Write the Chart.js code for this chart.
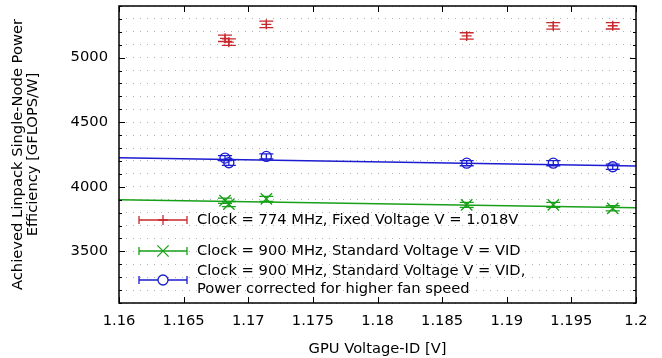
<!DOCTYPE html>
<html>
<head>
<meta charset="utf-8">
<script src="https://cdn.jsdelivr.net/npm/chart.js@4"></script>
<style>
  html, body { margin: 0; padding: 0; background: #fff; }
  #wrap { position: relative; width: 662px; height: 358px; }
</style>
</head>
<body>
<div id="wrap"><canvas id="chart"></canvas></div>
<script>
// --- data ---
const vidValues = [1.1682, 1.1685, 1.1714, 1.1869, 1.1936, 1.1982];
const fixedVoltageEff = [5150, 5120, 5258, 5168, 5246, 5247];
const fixedVoltageErr = [25, 25, 25, 25, 25, 25];
const standardEff = [3892, 3866, 3906, 3860, 3860, 3833];
const standardErr = [20, 20, 20, 20, 20, 20];
const correctedEff = [4222, 4186, 4235, 4183, 4183, 4155];
const correctedErr = [20, 20, 20, 20, 20, 20];

// linear fit lines (end points)
const fitX = [1.16, 1.2];
const standardFit = [3900, 3838];
const correctedFit = [4225, 4160];

const xTicks = [1.16, 1.165, 1.17, 1.175, 1.18, 1.185, 1.19, 1.195, 1.2];
const yMajorTicks = [3500, 4000, 4500, 5000];

const seriesLabels = [
    ['Clock = 774 MHz, Fixed Voltage V = 1.018V'],
    ['Clock = 900 MHz, Standard Voltage V = VID'],
    ['Clock = 900 MHz, Standard Voltage V = VID,', 'Power corrected for higher fan speed']
];

const RED = '#c8282d';
const GREEN = '#18a018';
const BLUE = '#1c1cd0';
const FONT = '"DejaVu Sans", sans-serif';
const FSIZE = 14.7;

function toPoints(xs, ys) {
    return xs.map((x, i) => ({ x: x, y: ys[i] }));
}

// error bars drawn through the chart's scales
const errorBarPlugin = {
    id: 'errorBars',
    afterDatasetsDraw(chart) {
        const ctx = chart.ctx;
        const xs = chart.scales.x, ys = chart.scales.y;
        chart.data.datasets.forEach(ds => {
            if (!ds.errors) return;
            ctx.save();
            ctx.strokeStyle = ds.borderColor;
            ctx.lineWidth = 1.3;
            ds.data.forEach((p, i) => {
                const px = xs.getPixelForValue(p.x);
                const top = ys.getPixelForValue(p.y + ds.errors[i]);
                const bot = ys.getPixelForValue(p.y - ds.errors[i]);
                ctx.beginPath();
                ctx.moveTo(px, top); ctx.lineTo(px, bot);
                ctx.moveTo(px - 7, top); ctx.lineTo(px + 7, top);
                ctx.moveTo(px - 7, bot); ctx.lineTo(px + 7, bot);
                ctx.stroke();
            });
            ctx.restore();
        });
    }
};

// frame, inward ticks and the in-plot legend (gnuplot look)
const framePlugin = {
    id: 'frame',
    afterDraw(chart) {
        const ctx = chart.ctx;
        const a = chart.chartArea;
        const xs = chart.scales.x, ys = chart.scales.y;
        ctx.save();
        ctx.strokeStyle = '#000';
        ctx.lineWidth = 1.5;
        ctx.strokeRect(a.left, a.top, a.right - a.left, a.bottom - a.top);

        ctx.lineWidth = 1;
        ctx.beginPath();
        xTicks.forEach(v => {
            const px = Math.round(xs.getPixelForValue(v)) + 0.5;
            ctx.moveTo(px, a.bottom); ctx.lineTo(px, a.bottom - 6);
            ctx.moveTo(px, a.top); ctx.lineTo(px, a.top + 6);
        });
        ys.ticks.forEach(t => {
            const len = yMajorTicks.includes(Math.round(t.value)) ? 6 : 3;
            const py = Math.round(ys.getPixelForValue(t.value)) + 0.5;
            ctx.moveTo(a.left, py); ctx.lineTo(a.left + len, py);
            ctx.moveTo(a.right, py); ctx.lineTo(a.right - len, py);
        });
        ctx.stroke();

        // legend
        const rows = [220, 251, 280];
        const colors = [RED, GREEN, BLUE];
        const styles = ['cross', 'crossRot', 'circle'];
        const radii = [5, 8, 5];
        const x0 = a.left + 20, x1 = a.left + 68, xt = a.left + 78;
        ctx.font = FSIZE + 'px ' + FONT;
        ctx.textBaseline = 'middle';
        rows.forEach((y, i) => {
            ctx.strokeStyle = colors[i];
            ctx.lineWidth = 1.3;
            ctx.beginPath();
            ctx.moveTo(x0, y); ctx.lineTo(x1, y);
            ctx.moveTo(x0, y - 4); ctx.lineTo(x0, y + 4);
            ctx.moveTo(x1, y - 4); ctx.lineTo(x1, y + 4);
            ctx.stroke();
            ctx.fillStyle = '#ffffff';
            Chart.helpers.drawPoint(ctx, {
                pointStyle: styles[i], radius: radii[i], borderWidth: 1.3, rotation: 0
            }, (x0 + x1) / 2, y);
            ctx.fillStyle = '#000';
            const lines = seriesLabels[i];
            lines.forEach((t, j) => {
                const ty = y + (j - (lines.length - 1) / 2) * 17.5;
                ctx.fillText(t, xt, ty);
            });
        });
        ctx.restore();
    }
};

new Chart(document.getElementById('chart'), {
    type: 'scatter',
    data: {
        datasets: [
            {
                type: 'line', label: 'fit standard', data: toPoints(fitX, standardFit),
                borderColor: GREEN, borderWidth: 1.5, pointRadius: 0, order: 5
            },
            {
                type: 'line', label: 'fit corrected', data: toPoints(fitX, correctedFit),
                borderColor: BLUE, borderWidth: 1.5, pointRadius: 0, order: 5
            },
            {
                label: seriesLabels[0].join(' '), data: toPoints(vidValues, fixedVoltageEff),
                errors: fixedVoltageErr, pointStyle: 'cross', pointRadius: 5,
                borderColor: RED, backgroundColor: RED, pointBorderWidth: 1.3
            },
            {
                label: seriesLabels[1].join(' '), data: toPoints(vidValues, standardEff),
                errors: standardErr, pointStyle: 'crossRot', pointRadius: 8,
                borderColor: GREEN, backgroundColor: GREEN, pointBorderWidth: 1.3
            },
            {
                label: seriesLabels[2].join(' '), data: toPoints(vidValues, correctedEff),
                errors: correctedErr, pointStyle: 'circle', pointRadius: 5,
                borderColor: BLUE, backgroundColor: 'rgba(0,0,0,0)', pointBorderWidth: 1.3
            }
        ]
    },
    options: {
        responsive: true,
        maintainAspectRatio: false,
        animation: false,
        layout: { autoPadding: false, padding: { top: 6, right: 26, left: 0, bottom: 0 } },
        plugins: {
            legend: { display: false },
            tooltip: { enabled: false }
        },
        scales: {
            x: {
                type: 'linear',
                min: 1.16,
                max: 1.2,
                afterBuildTicks: scale => { scale.ticks = xTicks.map(v => ({ value: v })); },
                afterFit: scale => {
                    scale.height = 55;
                    scale.paddingLeft = 0; scale.paddingRight = 0;
                },
                grid: { display: false, drawTicks: false },
                border: { display: false },
                ticks: {
                    padding: 9,
                    color: '#000',
                    font: { family: FONT, size: FSIZE },
                    maxRotation: 0,
                    autoSkip: false,
                    callback: v => String(Number(v.toFixed(3)))
                },
                title: {
                    display: true,
                    text: 'GPU Voltage-ID [V]',
                    color: '#000',
                    font: { family: FONT, size: FSIZE },
                    padding: { top: 2, bottom: 0 }
                }
            },
            y: {
                type: 'linear',
                min: 3100,
                max: 5400,
                afterFit: scale => {
                    scale.width = 119;
                    scale.paddingTop = 0; scale.paddingBottom = 0;
                },
                grid: { drawTicks: false, color: '#b0b0b0', lineWidth: 1 },
                border: { display: false, dash: [1, 6] },
                ticks: {
                    stepSize: 100,
                    padding: 11,
                    autoSkip: false,
                    color: '#000',
                    font: { family: FONT, size: FSIZE },
                    callback: v => yMajorTicks.includes(Math.round(v)) ? String(Math.round(v)) : ''
                },
                title: {
                    display: true,
                    text: ['Achieved Linpack Single-Node Power', 'Efficiency [GFLOPS/W]'],
                    color: '#000',
                    font: { family: FONT, size: FSIZE, lineHeight: 1.05 },
                    padding: { top: 10, bottom: 0 }
                }
            }
        }
    },
    plugins: [errorBarPlugin, framePlugin]
});
</script>
</body>
</html>
